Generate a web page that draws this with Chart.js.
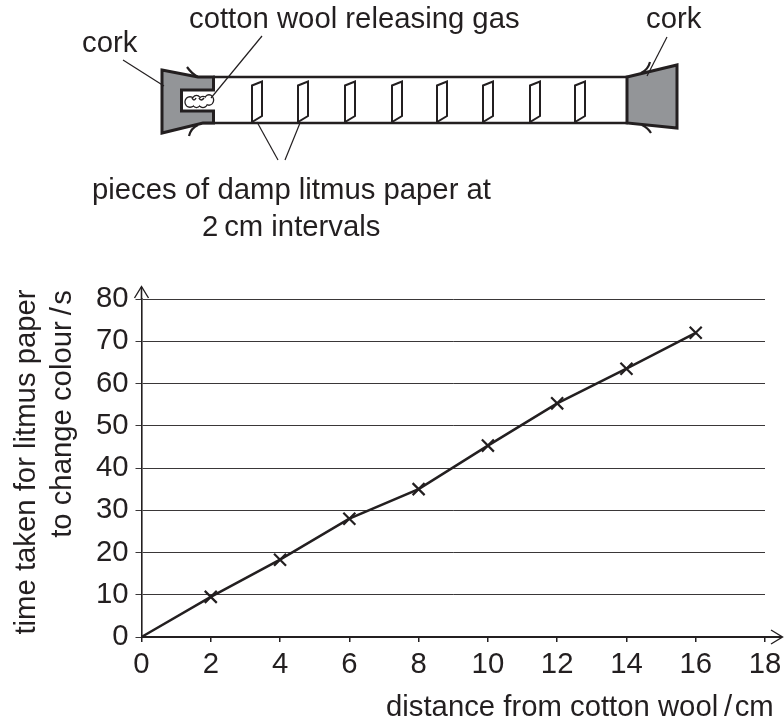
<!DOCTYPE html>
<html>
<head>
<meta charset="utf-8">
<style>html,body{margin:0;padding:0;background:#fff}canvas{display:block}</style>
<script src="https://cdn.jsdelivr.net/npm/chart.js@4"></script>
</head>
<body>
<canvas id="c" width="784" height="722"></canvas>
<script>
const distances = [0, 2, 4, 6, 8, 10, 12, 14, 16];
const times = [0, 9.5, 18.3, 28, 35, 45.3, 55.3, 63.5, 72];
const INK = '#231f20';
const FONT = '"Liberation Sans", Arial, sans-serif';
const FS = 29.3;

function poly(ctx, pts, close) {
  ctx.beginPath();
  pts.forEach((p, i) => i ? ctx.lineTo(p[0], p[1]) : ctx.moveTo(p[0], p[1]));
  if (close) ctx.closePath();
}
function seg(ctx, a, b, w) {
  ctx.lineWidth = w; poly(ctx, [a, b]); ctx.stroke();
}
function lip(ctx, a, c, b) {
  ctx.lineWidth = 2.2; ctx.beginPath(); ctx.moveTo(a[0], a[1]);
  ctx.quadraticCurveTo(c[0], c[1], b[0], b[1]); ctx.stroke();
}
const diagramPlugin = {
  id: 'diagram',
  afterDraw(chart) {
    const ctx = chart.ctx, xs = chart.scales.x, ys = chart.scales.y;
    ctx.save();
    ctx.strokeStyle = INK; ctx.fillStyle = INK; ctx.lineJoin = 'miter'; ctx.lineCap = 'butt';

    // axis arrows
    const x0 = xs.getPixelForValue(0), xEnd = xs.getPixelForValue(18);
    const y0 = ys.getPixelForValue(0), yEnd = ys.getPixelForValue(80);
    seg(ctx, [xEnd, y0], [xEnd + 17, y0], 2);
    ctx.lineWidth = 1.4;
    poly(ctx, [[xEnd + 6, y0 - 7], [xEnd + 17.5, y0], [xEnd + 6, y0 + 7]]); ctx.stroke();
    seg(ctx, [x0, yEnd], [x0, yEnd - 12], 1.6);
    ctx.lineWidth = 1.4;
    poly(ctx, [[x0 - 7, yEnd - 1], [x0, yEnd - 12.5], [x0 + 7, yEnd - 1]]); ctx.stroke();

    // tube
    seg(ctx, [213, 77], [628, 77], 2.6);
    seg(ctx, [203, 123], [628, 123], 2.6);

    // left cork
    ctx.fillStyle = '#939598'; ctx.lineWidth = 3;
    poly(ctx, [[162, 70], [198, 77], [213.5, 77], [213.5, 90], [181.5, 90], [181.5, 111], [213.5, 111], [213.5, 123], [203, 123], [162, 133]], true);
    ctx.fill(); ctx.stroke();

    // right cork
    poly(ctx, [[627, 77], [677, 65], [677, 128], [627, 123]], true);
    ctx.fill(); ctx.stroke();

    // tube lips
    lip(ctx, [187, 67], [192, 74], [198, 77]);
    lip(ctx, [189, 136], [191, 128], [198, 125]);
    lip(ctx, [650, 62], [648, 70], [641, 73]);
    lip(ctx, [651, 133], [648, 128], [642, 125]);

    // cotton wool
    const lobes = [[190, 102, 4.4, 4.6], [196.5, 101.5, 4.2, 5.4], [203, 102, 4.2, 5], [209, 100, 4, 4.6]];
    ctx.lineWidth = 2.6;
    lobes.forEach(p => { ctx.beginPath(); ctx.ellipse(p[0], p[1], p[2], p[3], 0, 0, Math.PI * 2); ctx.stroke(); });
    ctx.fillStyle = '#fff';
    lobes.forEach(p => { ctx.beginPath(); ctx.ellipse(p[0], p[1], p[2], p[3], 0, 0, Math.PI * 2); ctx.fill(); });
    ctx.lineWidth = 1.5;
    ctx.beginPath(); ctx.moveTo(192, 98); ctx.quadraticCurveTo(194, 102, 196, 98);
    ctx.moveTo(199, 98); ctx.quadraticCurveTo(201, 102, 204, 98); ctx.stroke();

    // litmus papers
    ctx.lineWidth = 2;
    [252, 298, 345, 392, 437, 483, 530, 575].forEach(x => {
      poly(ctx, [[x, 85.5], [x + 10, 81.5], [x + 10, 116], [x, 122]], true); ctx.stroke();
    });

    // leader lines
    [[[123, 60], [164, 86]], [[262, 36], [211, 98]], [[257, 122], [278, 160]],
     [[300, 123], [285, 160]], [[667, 37], [647, 76]]].forEach(l => seg(ctx, l[0], l[1], 1.2));

    // text
    ctx.fillStyle = INK; ctx.font = FS + 'px ' + FONT; ctx.textBaseline = 'alphabetic'; ctx.textAlign = 'left';
    ctx.fillText('cotton wool releasing gas', 189, 28);
    ctx.fillText('cork', 82, 52);
    ctx.fillText('cork', 646, 28);
    ctx.fillText('pieces of damp litmus paper at', 92, 199);
    ctx.fillText('2\u2009cm intervals', 202, 236);
    ctx.fillText('distance from cotton wool\u2009/\u200acm', 386, 716);

    ctx.textAlign = 'center';
    ctx.rotate(-Math.PI / 2);
    ctx.fillText('time taken for litmus paper', -462, 35);
    ctx.fillText('to change colour\u2009/\u200as', -414, 71);
    ctx.restore();
  }
};

new Chart(document.getElementById('c'), {
  type: 'line',
  data: {
    labels: distances,
    datasets: [{
      data: distances.map((d, i) => ({ x: d, y: times[i] })),
      borderColor: INK,
      borderWidth: 2.5,
      tension: 0,
      fill: false,
      clip: false,
      pointStyle: 'crossRot',
      pointRadius: c => c.dataIndex === 0 ? 0 : 8.5,
      pointHoverRadius: c => c.dataIndex === 0 ? 0 : 8.5,
      pointBorderColor: INK,
      pointBorderWidth: 2.2
    }]
  },
  options: {
    responsive: false,
    animation: false,
    layout: { padding: { left: 0, top: 299, right: 19, bottom: 0 } },
    plugins: { legend: { display: false }, tooltip: { enabled: false } },
    scales: {
      x: {
        type: 'linear', min: 0, max: 18,
        afterFit: s => { s.height = 85; s.paddingLeft = 0; s.paddingRight = 0; },
        ticks: { stepSize: 2, color: INK, font: { family: FONT, size: FS }, padding: 5, maxRotation: 0 },
        grid: { drawOnChartArea: false, drawTicks: true, tickLength: 5, color: INK, lineWidth: 1.5 },
        border: { display: true, color: INK, width: 2 }
      },
      y: {
        type: 'linear', min: 0, max: 80,
        afterFit: s => { s.width = 141.5; },
        ticks: { stepSize: 10, color: INK, font: { family: FONT, size: FS }, padding: 7 },
        grid: { drawOnChartArea: true, drawTicks: true, tickLength: 6, color: '#3a3738', lineWidth: 1 },
        border: { display: true, color: INK, width: 1.6 }
      }
    }
  },
  plugins: [diagramPlugin]
});
</script>
</body>
</html>
